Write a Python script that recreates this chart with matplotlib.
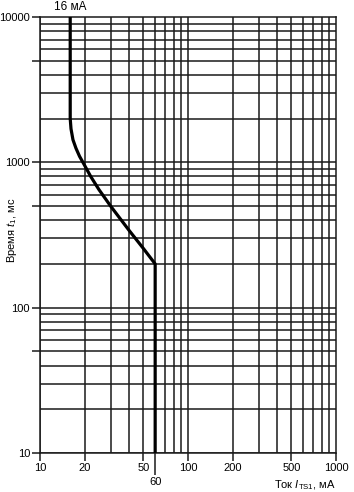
import matplotlib
matplotlib.use("Agg")
import matplotlib.pyplot as plt
import matplotlib.transforms as mtransforms
from matplotlib.ticker import FixedLocator, FixedFormatter, NullLocator

plt.rcParams['font.family'] = ['Liberation Sans', 'DejaVu Sans']
plt.rcParams['mathtext.fontset'] = 'custom'
plt.rcParams['mathtext.rm'] = 'Liberation Sans'
plt.rcParams['mathtext.it'] = 'Liberation Sans:italic'

# Data
current_mA = [16, 16, 16.2, 16.7, 17.5, 18.5, 19.5, 22, 25, 30, 40, 50, 60, 60]
time_ms = [10000, 2000, 1700, 1430, 1250, 1100, 1000, 800, 650, 500, 340, 255, 200, 10]

x_ticks = [10, 20, 50, 100, 200, 500, 1000]
x_tick_labels = ['10', '20', '50', '100', '200', '500', '1000']
x_special = [60]
x_special_labels = ['60']
y_ticks = [10, 50, 100, 500, 1000, 5000, 10000]
y_tick_labels = ['10', '', '100', '', '1000', '', '10000']
x_decades = [10, 100]
y_decades = [10, 100, 1000]
grid_mult = [1, 2, 3, 4, 5, 6, 7, 8, 9]

fig = plt.figure(figsize=(3.54, 4.92), dpi=100)
ax = fig.add_axes([40/354, 39/492, 296/354, 436/492])
ax.set_xscale('log')
ax.set_yscale('log')
ax.set_xlim(10, 1000)
ax.set_ylim(10, 10000)

lw = 1.1
for d in x_decades:
    for m in grid_mult:
        ax.axvline(d*m, color='#1a1a1a', lw=lw, zorder=1)
for d in y_decades:
    for m in grid_mult:
        ax.axhline(d*m, color='#1a1a1a', lw=lw, zorder=1)

ax.plot(current_mA, time_ms, color='black', lw=2.3, zorder=3,
        solid_joinstyle='round')

for s in ax.spines.values():
    s.set_linewidth(lw)
    s.set_color('#1a1a1a')

ax.xaxis.set_major_locator(FixedLocator(x_ticks))
ax.xaxis.set_major_formatter(FixedFormatter(x_tick_labels))
ax.xaxis.set_minor_locator(FixedLocator(x_special))
ax.xaxis.set_minor_formatter(FixedFormatter(x_special_labels))
ax.yaxis.set_major_locator(FixedLocator(y_ticks))
ax.yaxis.set_major_formatter(FixedFormatter(y_tick_labels))
ax.yaxis.set_minor_locator(NullLocator())

ax.tick_params(which='major', direction='out', length=6, width=lw, color='#1a1a1a',
               labelsize=8, pad=1.2)
ax.tick_params(axis='x', which='minor', direction='out', length=16, width=lw,
               color='#1a1a1a', labelsize=8, pad=1.2)

ax.set_ylabel('Время $t_1$, мс', fontsize=8)
ax.yaxis.set_label_coords(-0.072, 0.51)
ax.text(1.0, -0.073, 'Ток $I_{\\mathrm{TS1}}$, мА', transform=ax.transAxes,
        ha='right', va='center', fontsize=8)

trans = mtransforms.blended_transform_factory(ax.transData, ax.transAxes)
ax.text(16, 1.022, '16 мА', transform=trans, ha='center', va='center', fontsize=8.5)

fig.savefig('out.png', dpi=100)
